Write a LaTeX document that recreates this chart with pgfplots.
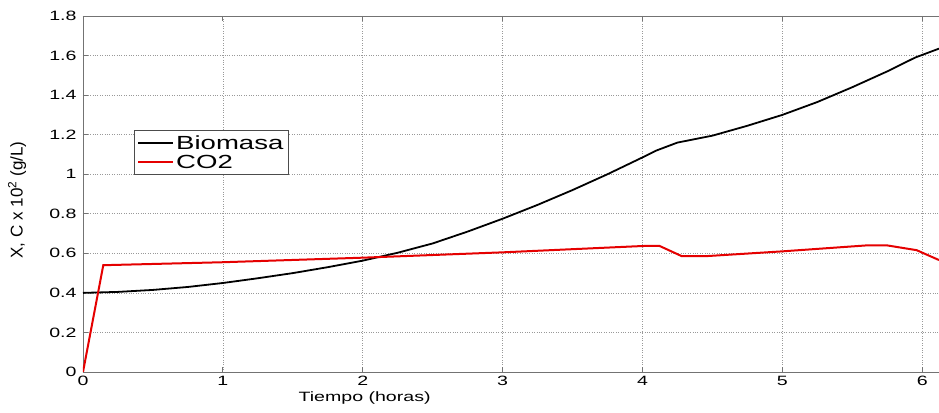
\documentclass[border=0pt]{standalone}
\usepackage{fontspec}
\setmainfont{Liberation Sans}[FakeStretch=1.45]
\newfontfamily\ylabfont{Liberation Sans}
\usepackage{pgfplots}
\pgfplotsset{compat=1.18}
\usetikzlibrary{calc}
\begin{document}
\begin{tikzpicture}
\begin{axis}[
  scale only axis, width=856pt, height=356pt,
  xmin=0, xmax=6.12, ymin=0, ymax=1.8,
  xtick={0,1,2,3,4,5,6}, ytick={0,0.2,0.4,0.6,0.8,1,1.2,1.4,1.6,1.8},
  axis x line*=box, axis y line*=left,
  axis line style={black!55, line width=0.8pt},
  tick style={black!55, line width=0.8pt},
  tick align=inside, major tick length=5pt,
  grid=major, grid style={dotted, black!40, line width=0.6pt},
  /pgf/number format/assume math mode=true,
  tick label style={font=\fontsize{13.5}{15}\selectfont},
  yticklabel style={/pgf/number format/fixed, xshift=-3pt},
  xticklabel style={yshift=-1pt},
  xlabel={Tiempo (horas)},
  xlabel style={at={(rel axis cs:0.329,0)}, anchor=center, yshift=-26pt, font=\fontsize{13.5}{15}\selectfont},
  ylabel={X, C x 10\textsuperscript{2} (g/L)},
  ylabel style={at={(rel axis cs:0,0.5)}, anchor=center, rotate=0, yshift=66pt, xshift=-6pt, font=\ylabfont\fontsize{17}{19}\selectfont},
  legend style={at={(axis cs:0.364,1.222)}, anchor=north west, draw=black!70, line width=0.6pt,
    font=\fontsize{19}{21}\selectfont, inner xsep=3pt, inner ysep=3pt, row sep=0pt, cells={anchor=west}},
  legend image code/.code={\draw[#1] (-2pt,0pt) -- (33pt,0pt);},
  clip=true,
]
\addplot[black, line width=1.8pt] coordinates {
(0,0.400) (0.25,0.405) (0.5,0.415) (0.75,0.430) (1,0.450) (1.25,0.474) (1.5,0.500)
(1.75,0.530) (2,0.563) (2.25,0.603) (2.5,0.650) (2.75,0.710) (3,0.775) (3.25,0.845)
(3.5,0.920) (3.75,1.000) (4,1.085) (4.1,1.120) (4.25,1.160) (4.5,1.195) (4.75,1.245)
(5,1.300) (5.25,1.365) (5.5,1.440) (5.75,1.520) (5.95,1.590) (6.12,1.635)};
\addlegendentry{Biomasa}
\addplot[red!90!black, line width=2pt] coordinates {
(0,0) (0.145,0.540) (1,0.555) (2,0.578) (3,0.605) (4.0,0.637) (4.12,0.638)
(4.28,0.586) (4.46,0.586) (5,0.610) (5.6,0.640) (5.75,0.640) (5.96,0.616) (6.12,0.566)};
\addlegendentry{CO2}
\end{axis}
\pgfresetboundingbox
\path[use as bounding box] ($(current axis.south west)+(-83pt,-40pt)$) rectangle ($(current axis.north east)+(0pt,16pt)$);
\end{tikzpicture}
\end{document}
